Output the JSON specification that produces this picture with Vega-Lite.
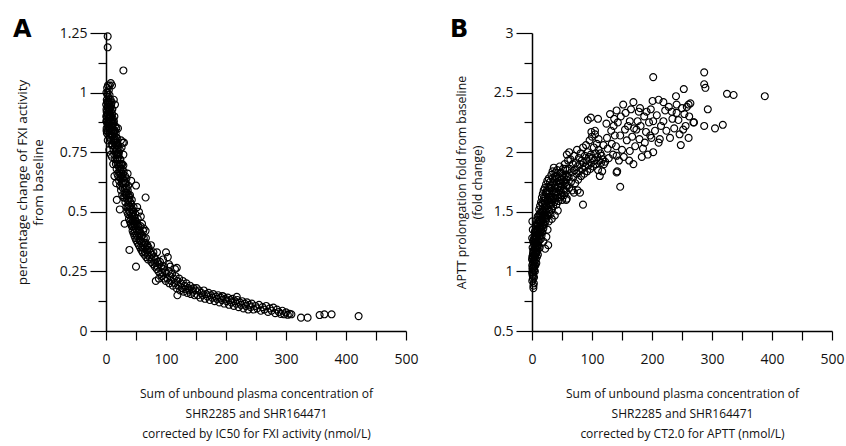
{
  "$schema": "https://vega.github.io/schema/vega-lite/v6.json",
  "background": "white",
  "padding": {"left": 13, "top": 18, "right": 0, "bottom": 6},
  "spacing": 126,
  "bounds": "flush",
  "config": {
    "view": {"stroke": null},
    "font": "Open Sans",
    "axis": {"grid": false, "domainColor": "#000", "domainWidth": 1.5, "tickColor": "#000", "tickWidth": 1.2, "labelColor": "#111", "labelFontSize": 14, "labelFont": "Open Sans", "titleFont": "Open Sans", "titleFontSize": 12, "titleFontWeight": "normal", "titleColor": "#111", "labelFlush": false, "labelOverlap": false},
    "axisX": {"tickSize": 9, "labelPadding": 12, "titleBaseline": "middle", "titleY": 62, "titleX": 150, "titleLineHeight": 20, "titleAlign": "center"},
    "axisY": {"labelPadding": 3, "titleAngle": -90, "titleBaseline": "middle", "titleY": 149, "titleLineHeight": 16, "titleAlign": "center"}
  },
  "datasets": {
    "fxi": [
      {"conc":0.3,"value":0.95},{"conc":0.5,"value":0.88},{"conc":0.7,"value":1.0},{"conc":1.0,"value":0.85},{"conc":1.1,"value":0.92},{"conc":1.3,"value":0.97},{"conc":1.5,"value":0.83},{"conc":1.7,"value":0.90},{"conc":1.9,"value":1.02},{"conc":2.0,"value":0.87},{"conc":2.2,"value":0.94},{"conc":2.4,"value":0.99},{"conc":2.6,"value":0.84},{"conc":2.8,"value":0.91},{"conc":3.0,"value":0.96},{"conc":3.1,"value":0.86},{"conc":3.3,"value":1.03},{"conc":3.5,"value":0.89},{"conc":3.7,"value":0.93},{"conc":3.9,"value":0.82},{"conc":4.1,"value":0.98},{"conc":4.3,"value":0.87},{"conc":4.5,"value":0.92},{"conc":4.7,"value":1.01},{"conc":4.9,"value":0.85},{"conc":5.1,"value":0.95},{"conc":5.3,"value":0.89},{"conc":5.5,"value":0.93},{"conc":5.7,"value":0.84},{"conc":5.9,"value":0.99},{"conc":6.1,"value":0.88},{"conc":6.3,"value":0.91},{"conc":6.5,"value":0.96},{"conc":6.7,"value":0.83},{"conc":6.9,"value":0.87},{"conc":7.1,"value":0.94},{"conc":7.3,"value":0.81},{"conc":7.5,"value":0.90},{"conc":7.7,"value":0.97},{"conc":7.9,"value":0.86},{"conc":8.1,"value":0.92},{"conc":8.3,"value":0.80},{"conc":8.5,"value":0.88},{"conc":8.7,"value":0.95},{"conc":8.9,"value":0.84},{"conc":9.1,"value":0.90},{"conc":9.3,"value":0.78},{"conc":9.5,"value":0.87},{"conc":9.7,"value":0.93},{"conc":9.9,"value":0.82},{"conc":1.4,"value":0.88},{"conc":2.9,"value":0.80},{"conc":0.8,"value":0.93},{"conc":8,"value":1.04},{"conc":10,"value":1.03},{"conc":6,"value":1.03},{"conc":5.5,"value":0.76},{"conc":8,"value":0.74},{"conc":10,"value":0.73},{"conc":12,"value":0.70},{"conc":14,"value":0.65},{"conc":17,"value":0.62},
      {"conc":10.2,"value":0.91},{"conc":10.5,"value":0.82},{"conc":10.8,"value":0.86},{"conc":11.1,"value":0.78},{"conc":11.4,"value":0.89},{"conc":11.7,"value":0.84},{"conc":12.0,"value":0.80},{"conc":12.3,"value":0.87},{"conc":12.6,"value":0.76},{"conc":12.9,"value":0.83},{"conc":13.2,"value":0.88},{"conc":13.5,"value":0.79},{"conc":13.8,"value":0.74},{"conc":14.1,"value":0.84},{"conc":14.4,"value":0.81},{"conc":14.7,"value":0.77},{"conc":15.0,"value":0.86},{"conc":15.3,"value":0.72},{"conc":15.6,"value":0.80},{"conc":15.9,"value":0.75},{"conc":16.2,"value":0.83},{"conc":16.5,"value":0.70},{"conc":16.8,"value":0.78},{"conc":17.1,"value":0.74},{"conc":17.4,"value":0.81},{"conc":17.7,"value":0.68},{"conc":18.0,"value":0.76},{"conc":18.3,"value":0.72},{"conc":18.6,"value":0.79},{"conc":18.9,"value":0.66},{"conc":19.2,"value":0.74},{"conc":19.5,"value":0.70},{"conc":19.8,"value":0.77},{"conc":20.2,"value":0.65},{"conc":20.6,"value":0.73},{"conc":21.0,"value":0.69},{"conc":21.4,"value":0.75},{"conc":21.8,"value":0.63},{"conc":22.2,"value":0.70},{"conc":22.6,"value":0.66},{"conc":23.0,"value":0.72},{"conc":23.4,"value":0.61},{"conc":23.8,"value":0.68},{"conc":24.2,"value":0.64},{"conc":24.6,"value":0.70},{"conc":25.0,"value":0.59},{"conc":25.5,"value":0.66},{"conc":26.0,"value":0.62},{"conc":26.5,"value":0.68},{"conc":27.0,"value":0.57},{"conc":27.5,"value":0.64},{"conc":28.0,"value":0.60},{"conc":28.5,"value":0.66},{"conc":29.0,"value":0.56},{"conc":29.5,"value":0.62},{"conc":15,"value":0.95},{"conc":13,"value":0.97},{"conc":25,"value":0.80},{"conc":28,"value":0.79},{"conc":26,"value":0.77},{"conc":20,"value":0.85},{"conc":29,"value":0.74},{"conc":29,"value":0.695},{"conc":30,"value":0.79},
      {"conc":30.3,"value":0.63},{"conc":30.8,"value":0.56},{"conc":31.3,"value":0.60},{"conc":31.8,"value":0.65},{"conc":32.3,"value":0.54},{"conc":32.8,"value":0.58},{"conc":33.3,"value":0.62},{"conc":33.8,"value":0.52},{"conc":34.3,"value":0.57},{"conc":34.8,"value":0.60},{"conc":35.3,"value":0.50},{"conc":35.8,"value":0.55},{"conc":36.3,"value":0.59},{"conc":36.8,"value":0.49},{"conc":37.3,"value":0.53},{"conc":37.8,"value":0.57},{"conc":38.3,"value":0.47},{"conc":38.8,"value":0.52},{"conc":39.3,"value":0.56},{"conc":39.8,"value":0.46},{"conc":40.3,"value":0.50},{"conc":40.8,"value":0.54},{"conc":41.3,"value":0.45},{"conc":41.8,"value":0.49},{"conc":42.3,"value":0.53},{"conc":42.8,"value":0.44},{"conc":43.3,"value":0.48},{"conc":43.8,"value":0.51},{"conc":44.3,"value":0.42},{"conc":44.8,"value":0.46},{"conc":45.3,"value":0.50},{"conc":45.8,"value":0.41},{"conc":46.3,"value":0.45},{"conc":46.8,"value":0.48},{"conc":47.3,"value":0.40},{"conc":47.8,"value":0.44},{"conc":48.3,"value":0.47},{"conc":48.8,"value":0.39},{"conc":49.3,"value":0.43},{"conc":49.8,"value":0.46},{"conc":50.5,"value":0.38},{"conc":51.2,"value":0.42},{"conc":51.9,"value":0.45},{"conc":52.6,"value":0.37},{"conc":53.3,"value":0.41},{"conc":54.0,"value":0.44},{"conc":54.7,"value":0.36},{"conc":55.4,"value":0.40},{"conc":56.1,"value":0.42},{"conc":56.8,"value":0.35},{"conc":57.5,"value":0.38},{"conc":58.2,"value":0.41},{"conc":58.9,"value":0.34},{"conc":59.6,"value":0.37},{"conc":60.3,"value":0.40},{"conc":61.0,"value":0.33},{"conc":62,"value":0.36},{"conc":63,"value":0.39},{"conc":64,"value":0.32},{"conc":65,"value":0.35},{"conc":66,"value":0.37},{"conc":67,"value":0.31},{"conc":68,"value":0.34},{"conc":69,"value":0.36},{"conc":70,"value":0.30},
      {"conc":50,"value":0.61},{"conc":66,"value":0.56},{"conc":36,"value":0.66},{"conc":42,"value":0.63},{"conc":18,"value":0.55},{"conc":23,"value":0.51},{"conc":31,"value":0.45},{"conc":39,"value":0.34},{"conc":50,"value":0.27},{"conc":60,"value":0.45},{"conc":63,"value":0.43},{"conc":66,"value":0.42},{"conc":58,"value":0.48},{"conc":55,"value":0.5},{"conc":52,"value":0.52},
      {"conc":0.4,"value":0.90},{"conc":0.9,"value":0.84},{"conc":1.6,"value":0.96},{"conc":2.1,"value":0.91},{"conc":2.7,"value":1.0},{"conc":3.4,"value":0.94},{"conc":4.0,"value":0.88},{"conc":4.4,"value":0.96},{"conc":5.0,"value":0.90},{"conc":6.0,"value":0.93},{"conc":6.8,"value":0.90},{"conc":7.6,"value":0.85},{"conc":9.0,"value":0.96},{"conc":10.6,"value":0.93},{"conc":11.2,"value":0.88},{"conc":12.1,"value":0.84},{"conc":13.0,"value":0.80},{"conc":14.0,"value":0.90},{"conc":15.2,"value":0.84},{"conc":16.0,"value":0.79},{"conc":17.2,"value":0.85},{"conc":18.2,"value":0.81},{"conc":19.0,"value":0.72},{"conc":20.0,"value":0.78},{"conc":21.0,"value":0.74},{"conc":22.0,"value":0.67},{"conc":23.0,"value":0.76},{"conc":24.0,"value":0.72},{"conc":25.0,"value":0.70},{"conc":26.0,"value":0.65},{"conc":27.0,"value":0.70},{"conc":28.0,"value":0.64},{"conc":29.5,"value":0.67},{"conc":31.0,"value":0.58},{"conc":32.0,"value":0.62},{"conc":33.0,"value":0.57},{"conc":34.0,"value":0.64},{"conc":35.0,"value":0.58},{"conc":36.0,"value":0.52},{"conc":37.0,"value":0.61},{"conc":38.0,"value":0.55},{"conc":39.0,"value":0.50},{"conc":40.0,"value":0.57},{"conc":41.0,"value":0.52},{"conc":42.0,"value":0.47},{"conc":43.0,"value":0.55},{"conc":44.0,"value":0.49},{"conc":45.0,"value":0.44},{"conc":46.0,"value":0.52},{"conc":47.0,"value":0.46},{"conc":48.0,"value":0.42},{"conc":49.0,"value":0.49},{"conc":50.0,"value":0.45},{"conc":51.5,"value":0.40},{"conc":53.0,"value":0.47},{"conc":54.5,"value":0.42},{"conc":56.0,"value":0.38},{"conc":57.5,"value":0.44},{"conc":59.0,"value":0.40},{"conc":60.5,"value":0.35},{"conc":62.0,"value":0.42},{"conc":63.5,"value":0.37},{"conc":65.0,"value":0.33},{"conc":66.5,"value":0.39},{"conc":68.0,"value":0.355},{"conc":69.5,"value":0.32},{"conc":72,"value":0.34},{"conc":76,"value":0.30},{"conc":79,"value":0.33},{"conc":82,"value":0.285},{"conc":86,"value":0.27},{"conc":90,"value":0.29},{"conc":94,"value":0.245},{"conc":97,"value":0.27},
      {"conc":71,"value":0.35},{"conc":72.5,"value":0.31},{"conc":74,"value":0.33},{"conc":75.5,"value":0.29},{"conc":77,"value":0.32},{"conc":78.5,"value":0.28},{"conc":80,"value":0.31},{"conc":81.5,"value":0.27},{"conc":83,"value":0.30},{"conc":84.5,"value":0.26},{"conc":86,"value":0.29},{"conc":87.5,"value":0.25},{"conc":89,"value":0.28},{"conc":90.5,"value":0.24},{"conc":92,"value":0.27},{"conc":93.5,"value":0.23},{"conc":95,"value":0.26},{"conc":96.5,"value":0.22},{"conc":98,"value":0.25},{"conc":99.5,"value":0.21},{"conc":101,"value":0.24},{"conc":102.5,"value":0.22},{"conc":104,"value":0.25},{"conc":105.5,"value":0.20},{"conc":107,"value":0.23},{"conc":108.5,"value":0.21},{"conc":110,"value":0.24},{"conc":111.5,"value":0.19},{"conc":113,"value":0.22},{"conc":114.5,"value":0.20},{"conc":116,"value":0.23},{"conc":117.5,"value":0.18},{"conc":119,"value":0.21},{"conc":120.5,"value":0.19},{"conc":122,"value":0.22},{"conc":123.5,"value":0.17},{"conc":125,"value":0.20},{"conc":126.5,"value":0.18},{"conc":128,"value":0.21},{"conc":129.5,"value":0.165},{"conc":131,"value":0.19},{"conc":132.5,"value":0.175},{"conc":134,"value":0.20},{"conc":135.5,"value":0.16},{"conc":137,"value":0.18},{"conc":138.5,"value":0.17},{"conc":140,"value":0.19},{"conc":141.5,"value":0.155},{"conc":143,"value":0.175},{"conc":144.5,"value":0.165},{"conc":146,"value":0.18},{"conc":147.5,"value":0.15},{"conc":149,"value":0.17},{"conc":75,"value":0.36},{"conc":85,"value":0.33},{"conc":95,"value":0.30},{"conc":105,"value":0.28},{"conc":115,"value":0.26},{"conc":88,"value":0.22},{"conc":100,"value":0.33},{"conc":103,"value":0.31},{"conc":83,"value":0.21},{"conc":119,"value":0.15},{"conc":107,"value":0.27},{"conc":118,"value":0.265},
      {"conc":151,"value":0.18},{"conc":153,"value":0.15},{"conc":155,"value":0.17},{"conc":157,"value":0.14},{"conc":159,"value":0.16},{"conc":161,"value":0.15},{"conc":163,"value":0.17},{"conc":165,"value":0.135},{"conc":167,"value":0.155},{"conc":169,"value":0.145},{"conc":171,"value":0.16},{"conc":173,"value":0.13},{"conc":175,"value":0.15},{"conc":177,"value":0.14},{"conc":179,"value":0.155},{"conc":181,"value":0.125},{"conc":183,"value":0.145},{"conc":185,"value":0.135},{"conc":187,"value":0.15},{"conc":189,"value":0.12},{"conc":191,"value":0.14},{"conc":193,"value":0.13},{"conc":195,"value":0.145},{"conc":197,"value":0.115},{"conc":199,"value":0.135},{"conc":201,"value":0.125},{"conc":203,"value":0.14},{"conc":205,"value":0.11},{"conc":207,"value":0.13},{"conc":209,"value":0.12},{"conc":211,"value":0.135},{"conc":213,"value":0.105},{"conc":215,"value":0.125},{"conc":217,"value":0.115},{"conc":219,"value":0.13},{"conc":221,"value":0.10},{"conc":223,"value":0.12},{"conc":225,"value":0.11},{"conc":227,"value":0.125},{"conc":229,"value":0.095},{"conc":231,"value":0.115},{"conc":233,"value":0.105},{"conc":235,"value":0.12},{"conc":237,"value":0.09},{"conc":239,"value":0.11},{"conc":241,"value":0.10},{"conc":243,"value":0.115},{"conc":246,"value":0.09},{"conc":249,"value":0.105},{"conc":252,"value":0.095},{"conc":255,"value":0.11},{"conc":258,"value":0.085},{"conc":261,"value":0.10},{"conc":264,"value":0.09},{"conc":267,"value":0.105},{"conc":270,"value":0.08},{"conc":273,"value":0.095},{"conc":276,"value":0.085},{"conc":279,"value":0.098},{"conc":282,"value":0.075},{"conc":285,"value":0.09},{"conc":288,"value":0.08},{"conc":291,"value":0.072},{"conc":294,"value":0.085},{"conc":297,"value":0.07},{"conc":300,"value":0.078},{"conc":303,"value":0.068},{"conc":306,"value":0.072},{"conc":309,"value":0.07},{"conc":194,"value":0.147},{"conc":218,"value":0.143},
      {"conc":2.8,"value":1.236},{"conc":2.8,"value":1.19},{"conc":29,"value":1.093},{"conc":325,"value":0.056},{"conc":336,"value":0.056},{"conc":356,"value":0.067},{"conc":364,"value":0.07},{"conc":376,"value":0.07},{"conc":421,"value":0.0625}
    ],
    "aptt": [
      {"conc":0.2,"value":0.99},{"conc":0.4,"value":1.05},{"conc":0.5,"value":0.92},{"conc":0.7,"value":1.12},{"conc":0.9,"value":0.97},{"conc":1.0,"value":1.20},{"conc":1.2,"value":1.03},{"conc":1.4,"value":0.94},{"conc":1.5,"value":1.08},{"conc":1.7,"value":1.15},{"conc":1.9,"value":0.99},{"conc":2.0,"value":1.25},{"conc":2.2,"value":1.06},{"conc":2.4,"value":0.88},{"conc":2.6,"value":1.12},{"conc":2.8,"value":1.01},{"conc":3.0,"value":1.18},{"conc":3.2,"value":1.09},{"conc":3.4,"value":0.95},{"conc":3.6,"value":1.22},{"conc":3.8,"value":1.04},{"conc":4.0,"value":1.14},{"conc":4.2,"value":1.30},{"conc":4.4,"value":1.08},{"conc":4.6,"value":1.19},{"conc":4.8,"value":1.00},{"conc":5.0,"value":1.26},{"conc":5.2,"value":1.12},{"conc":5.4,"value":1.34},{"conc":5.6,"value":1.05},{"conc":5.8,"value":1.21},{"conc":6.0,"value":1.15},{"conc":6.2,"value":1.38},{"conc":6.4,"value":1.10},{"conc":6.6,"value":1.27},{"conc":6.8,"value":1.18},{"conc":7.0,"value":1.32},{"conc":7.2,"value":1.07},{"conc":7.4,"value":1.24},{"conc":7.6,"value":1.40},{"conc":7.8,"value":1.16},{"conc":8.0,"value":1.29},{"conc":8.2,"value":1.12},{"conc":8.4,"value":1.35},{"conc":8.6,"value":1.22},{"conc":8.8,"value":1.43},{"conc":9.0,"value":1.18},{"conc":9.2,"value":1.31},{"conc":9.4,"value":1.26},{"conc":9.6,"value":1.38},{"conc":9.8,"value":1.14},{"conc":0.6,"value":1.42},{"conc":1.3,"value":1.35},{"conc":2.3,"value":0.86},{"conc":3.1,"value":0.90},{"conc":0.3,"value":1.28},
      {"conc":0.1,"value":1.10},{"conc":0.8,"value":1.02},{"conc":1.1,"value":1.13},{"conc":1.6,"value":0.96},{"conc":2.1,"value":1.17},{"conc":2.5,"value":1.04},{"conc":2.9,"value":1.27},{"conc":3.3,"value":1.14},{"conc":3.7,"value":1.01},{"conc":4.1,"value":1.24},{"conc":4.5,"value":1.33},{"conc":4.9,"value":1.13},{"conc":5.3,"value":1.20},{"conc":5.9,"value":1.30},{"conc":6.5,"value":1.22},{"conc":7.1,"value":1.15},{"conc":7.7,"value":1.28},{"conc":8.3,"value":1.20},{"conc":8.9,"value":1.33},{"conc":9.5,"value":1.46},{"conc":10.3,"value":1.35},{"conc":11.0,"value":1.25},{"conc":11.8,"value":1.42},{"conc":12.5,"value":1.33},{"conc":13.3,"value":1.48},{"conc":14.0,"value":1.38},{"conc":14.8,"value":1.50},{"conc":15.5,"value":1.42},{"conc":16.3,"value":1.33},{"conc":17.0,"value":1.57},{"conc":17.8,"value":1.43},{"conc":18.5,"value":1.50},{"conc":19.3,"value":1.40},{"conc":20.0,"value":1.62},{"conc":20.8,"value":1.49},{"conc":21.6,"value":1.57},{"conc":22.4,"value":1.44},{"conc":23.2,"value":1.66},{"conc":24.0,"value":1.55},{"conc":24.8,"value":1.68},{"conc":25.6,"value":1.47},{"conc":26.4,"value":1.60},{"conc":27.2,"value":1.71},{"conc":28.0,"value":1.52},{"conc":29.0,"value":1.63},{"conc":30.0,"value":1.75},{"conc":31.5,"value":1.58},{"conc":33.0,"value":1.70},{"conc":34.5,"value":1.78},{"conc":36.0,"value":1.62},{"conc":37.5,"value":1.72},{"conc":39.0,"value":1.83},{"conc":40.5,"value":1.66},{"conc":42.0,"value":1.78},{"conc":43.5,"value":1.62},{"conc":45.0,"value":1.74},{"conc":46.5,"value":1.82},{"conc":48.0,"value":1.71},{"conc":49.5,"value":1.64},{"conc":51.0,"value":1.80},{"conc":52.5,"value":1.75},{"conc":54.0,"value":1.68},{"conc":55.5,"value":1.86},{"conc":57.0,"value":1.72},{"conc":59.0,"value":1.80},
      {"conc":10.2,"value":1.22},{"conc":10.5,"value":1.40},{"conc":10.8,"value":1.31},{"conc":11.1,"value":1.47},{"conc":11.4,"value":1.26},{"conc":11.7,"value":1.36},{"conc":12.0,"value":1.52},{"conc":12.3,"value":1.30},{"conc":12.6,"value":1.43},{"conc":12.9,"value":1.20},{"conc":13.2,"value":1.38},{"conc":13.5,"value":1.55},{"conc":13.8,"value":1.33},{"conc":14.1,"value":1.46},{"conc":14.4,"value":1.27},{"conc":14.7,"value":1.41},{"conc":15.0,"value":1.58},{"conc":15.3,"value":1.35},{"conc":15.6,"value":1.49},{"conc":15.9,"value":1.30},{"conc":16.2,"value":1.44},{"conc":16.5,"value":1.62},{"conc":16.8,"value":1.38},{"conc":17.1,"value":1.52},{"conc":17.4,"value":1.33},{"conc":17.7,"value":1.47},{"conc":18.0,"value":1.65},{"conc":18.3,"value":1.41},{"conc":18.6,"value":1.56},{"conc":18.9,"value":1.36},{"conc":19.2,"value":1.50},{"conc":19.5,"value":1.68},{"conc":19.8,"value":1.44},{"conc":20.2,"value":1.59},{"conc":20.6,"value":1.39},{"conc":21.0,"value":1.53},{"conc":21.4,"value":1.70},{"conc":21.8,"value":1.47},{"conc":22.2,"value":1.62},{"conc":22.6,"value":1.42},{"conc":23.0,"value":1.56},{"conc":23.4,"value":1.73},{"conc":23.8,"value":1.50},{"conc":24.2,"value":1.65},{"conc":24.6,"value":1.45},{"conc":25.0,"value":1.59},{"conc":25.5,"value":1.76},{"conc":26.0,"value":1.53},{"conc":26.5,"value":1.67},{"conc":27.0,"value":1.22},{"conc":27.5,"value":1.62},{"conc":28.0,"value":1.78},{"conc":28.5,"value":1.56},{"conc":29.0,"value":1.70},{"conc":29.5,"value":1.50},{"conc":24,"value":1.29},{"conc":22,"value":1.19},{"conc":19,"value":1.25},{"conc":26,"value":1.35},{"conc":28,"value":1.42},
      {"conc":30.3,"value":1.62},{"conc":30.8,"value":1.48},{"conc":31.3,"value":1.72},{"conc":31.8,"value":1.56},{"conc":32.3,"value":1.81},{"conc":32.8,"value":1.60},{"conc":33.3,"value":1.52},{"conc":33.8,"value":1.68},{"conc":34.3,"value":1.84},{"conc":34.8,"value":1.63},{"conc":35.3,"value":1.55},{"conc":35.8,"value":1.74},{"conc":36.3,"value":1.87},{"conc":36.8,"value":1.66},{"conc":37.3,"value":1.58},{"conc":37.8,"value":1.77},{"conc":38.3,"value":1.70},{"conc":38.8,"value":1.61},{"conc":39.3,"value":1.80},{"conc":39.8,"value":1.67},{"conc":40.5,"value":1.56},{"conc":41.2,"value":1.75},{"conc":41.9,"value":1.85},{"conc":42.6,"value":1.64},{"conc":43.3,"value":1.71},{"conc":44.0,"value":1.59},{"conc":44.7,"value":1.79},{"conc":45.4,"value":1.68},{"conc":46.1,"value":1.88},{"conc":46.8,"value":1.62},{"conc":47.5,"value":1.74},{"conc":48.2,"value":1.83},{"conc":48.9,"value":1.66},{"conc":49.6,"value":1.77},{"conc":50.3,"value":1.60},{"conc":51,"value":1.72},{"conc":51.7,"value":1.86},{"conc":52.4,"value":1.69},{"conc":53.1,"value":1.79},{"conc":53.8,"value":1.64},{"conc":54.5,"value":1.90},{"conc":55.2,"value":1.74},{"conc":55.9,"value":1.81},{"conc":56.6,"value":1.67},{"conc":57.3,"value":1.77},{"conc":58,"value":1.61},{"conc":58.7,"value":1.85},{"conc":59.4,"value":1.72},{"conc":60,"value":1.93},{"conc":33,"value":1.44},{"conc":38,"value":1.47},{"conc":43,"value":1.51},
      {"conc":61,"value":1.79},{"conc":62,"value":1.70},{"conc":63,"value":1.86},{"conc":64,"value":1.94},{"conc":65,"value":1.75},{"conc":66,"value":1.83},{"conc":67,"value":1.68},{"conc":68,"value":1.90},{"conc":69,"value":1.79},{"conc":70,"value":1.97},{"conc":71,"value":1.85},{"conc":72,"value":1.74},{"conc":73,"value":1.91},{"conc":74,"value":1.82},{"conc":75,"value":2.02},{"conc":76,"value":1.88},{"conc":77,"value":1.77},{"conc":78,"value":1.95},{"conc":79,"value":1.84},{"conc":80,"value":1.90},{"conc":81,"value":1.99},{"conc":82,"value":1.80},{"conc":83,"value":1.93},{"conc":84,"value":1.86},{"conc":85,"value":2.04},{"conc":86,"value":1.91},{"conc":87,"value":1.82},{"conc":88,"value":1.97},{"conc":89,"value":1.88},{"conc":90,"value":2.06},{"conc":91,"value":1.93},{"conc":92,"value":1.84},{"conc":93,"value":2.00},{"conc":94,"value":1.89},{"conc":95,"value":1.96},{"conc":96,"value":2.10},{"conc":97,"value":1.86},{"conc":98,"value":1.98},{"conc":99,"value":1.91},{"conc":100,"value":2.13},{"conc":101,"value":1.95},{"conc":102,"value":1.88},{"conc":103,"value":2.04},{"conc":104,"value":1.93},{"conc":105,"value":2.18},{"conc":106,"value":1.99},{"conc":107,"value":1.90},{"conc":108,"value":2.07},{"conc":109,"value":1.96},{"conc":110,"value":1.85},{"conc":111,"value":2.02},{"conc":112,"value":1.93},{"conc":113,"value":1.80},{"conc":114,"value":1.99},{"conc":115,"value":1.91},{"conc":116,"value":1.97},{"conc":117,"value":1.84},{"conc":118,"value":1.94},{"conc":119,"value":2.06},{"conc":120,"value":1.90},{"conc":57,"value":1.60},{"conc":70,"value":1.66},{"conc":76,"value":1.68},{"conc":80,"value":1.66},{"conc":85,"value":1.56},{"conc":93,"value":2.27},{"conc":98,"value":2.29},{"conc":110,"value":2.28},{"conc":62,"value":2.0},{"conc":58,"value":1.98},
      {"conc":124,"value":2.24},{"conc":126,"value":2.03},{"conc":130,"value":2.32},{"conc":133,"value":2.07},{"conc":136,"value":2.22},{"conc":138,"value":2.14},{"conc":141,"value":2.35},{"conc":141,"value":1.97},{"conc":141,"value":1.83},{"conc":147,"value":2.14},{"conc":147,"value":1.71},{"conc":142,"value":1.84},{"conc":152,"value":2.40},{"conc":153,"value":1.96},{"conc":155,"value":2.19},{"conc":163,"value":2.26},{"conc":163,"value":2.01},{"conc":169,"value":2.42},{"conc":169,"value":1.90},{"conc":174,"value":2.19},{"conc":178,"value":2.34},{"conc":180,"value":2.37},{"conc":183,"value":1.96},{"conc":188,"value":2.08},{"conc":191,"value":2.34},{"conc":197,"value":2.14},{"conc":199,"value":2.12},{"conc":201,"value":2.43},{"conc":202,"value":2.26},{"conc":202,"value":2.0},{"conc":202,"value":2.63},{"conc":211,"value":2.44},{"conc":211,"value":2.08},{"conc":213,"value":2.11},{"conc":219,"value":2.42},{"conc":219,"value":2.26},{"conc":224,"value":2.18},{"conc":233,"value":2.34},{"conc":234,"value":2.28},{"conc":240,"value":2.47},{"conc":241,"value":2.40},{"conc":241,"value":2.33},{"conc":248,"value":2.06},{"conc":252,"value":2.19},{"conc":253,"value":2.53},{"conc":254,"value":2.32},{"conc":258,"value":2.38},{"conc":261,"value":2.40},{"conc":261,"value":2.12},{"conc":269,"value":2.25},{"conc":287,"value":2.67},{"conc":287,"value":2.57},{"conc":289,"value":2.54},{"conc":293,"value":2.36},{"conc":287,"value":2.22},{"conc":305,"value":2.20},{"conc":318,"value":2.23},{"conc":325,"value":2.49},{"conc":336,"value":2.48},{"conc":388,"value":2.47},{"conc":111,"value":2.11},{"conc":99,"value":2.17},{"conc":105,"value":2.15},
      {"conc":122,"value":1.92},{"conc":125,"value":2.12},{"conc":128,"value":1.95},{"conc":132,"value":2.18},{"conc":135,"value":1.98},{"conc":137,"value":2.28},{"conc":140,"value":2.05},{"conc":143,"value":2.25},{"conc":145,"value":1.93},{"conc":148,"value":2.30},{"conc":150,"value":2.02},{"conc":156,"value":2.33},{"conc":158,"value":2.10},{"conc":160,"value":2.22},{"conc":162,"value":1.93},{"conc":165,"value":2.36},{"conc":167,"value":2.13},{"conc":170,"value":2.20},{"conc":172,"value":2.05},{"conc":176,"value":2.26},{"conc":179,"value":2.11},{"conc":181,"value":2.22},{"conc":185,"value":2.03},{"conc":187,"value":2.30},{"conc":190,"value":2.17},{"conc":193,"value":1.98},{"conc":195,"value":2.25},{"conc":198,"value":2.36},{"conc":205,"value":2.18},{"conc":208,"value":2.31},{"conc":215,"value":2.22},{"conc":222,"value":2.35},{"conc":228,"value":2.38},{"conc":230,"value":2.12},{"conc":237,"value":2.20},{"conc":244,"value":2.27},{"conc":246,"value":2.15},{"conc":250,"value":2.37},{"conc":256,"value":2.22},{"conc":262,"value":2.30},{"conc":264,"value":2.41},{"conc":270,"value":2.25}
    ]
  },
  "hconcat": [
    {
      "width": 300,
      "height": 298,
      "title": {"text": "A", "anchor": "start", "frame": "group", "dx": -93, "dy": 35, "offset": 0, "font": "DejaVu Sans", "fontSize": 24, "fontWeight": "bold", "baseline": "alphabetic", "color": "#000"},
      "data": {"name": "fxi"},
      "mark": {"type": "point", "shape": "circle", "filled": false, "stroke": "#000", "strokeWidth": 1.15, "size": 48, "opacity": 1},
      "encoding": {
        "x": {"field": "conc", "type": "quantitative", "scale": {"domain": [0, 500], "nice": false, "zero": false},
          "axis": {"values": [0, 50, 100, 150, 200, 250, 300, 350, 400, 450, 500], "labelExpr": "datum.value % 100 === 0 ? format(datum.value, 'd') : ''",
            "title": ["Sum of unbound plasma concentration of", "SHR2285 and SHR164471", "corrected by IC50 for FXI activity (nmol/L)"]}},
        "y": {"field": "value", "type": "quantitative", "scale": {"domain": [0, 1.25], "nice": false, "zero": false},
          "axis": {"values": [0, 0.125, 0.25, 0.375, 0.5, 0.625, 0.75, 0.875, 1, 1.125, 1.25],
            "labelExpr": "datum.value % 0.25 === 0 ? format(datum.value, '~g') : ''",
            "tickSize": {"condition": {"test": "datum.value % 0.25 === 0", "value": 16}, "value": 8},
            "titleX": -84,
            "titleFontSize": 13.5,
            "title": ["percentage change of FXI activity", "from baseline"]}}
      }
    },
    {
      "width": 300,
      "height": 298,
      "title": {"text": "B", "anchor": "start", "frame": "group", "dx": -82, "dy": 35, "offset": 0, "font": "DejaVu Sans", "fontSize": 24, "fontWeight": "bold", "baseline": "alphabetic", "color": "#000"},
      "data": {"name": "aptt"},
      "mark": {"type": "point", "shape": "circle", "filled": false, "stroke": "#000", "strokeWidth": 1.15, "size": 48, "opacity": 1},
      "encoding": {
        "x": {"field": "conc", "type": "quantitative", "scale": {"domain": [0, 500], "nice": false, "zero": false},
          "axis": {"values": [0, 50, 100, 150, 200, 250, 300, 350, 400, 450, 500], "labelExpr": "datum.value % 100 === 0 ? format(datum.value, 'd') : ''",
            "title": ["Sum of unbound plasma concentration of", "SHR2285 and SHR164471", "corrected by CT2.0 for APTT (nmol/L)"]}},
        "y": {"field": "value", "type": "quantitative", "scale": {"domain": [0.5, 3], "nice": false, "zero": false},
          "axis": {"values": [0.5, 0.75, 1, 1.25, 1.5, 1.75, 2, 2.25, 2.5, 2.75, 3],
            "labelExpr": "datum.value % 0.5 === 0 ? format(datum.value, '~g') : ''",
            "tickSize": {"condition": {"test": "datum.value % 0.5 === 0", "value": 16}, "value": 8},
            "titleX": -71,
            "titleFontSize": 12.3,
            "title": ["APTT prolongation fold from baseline", "(fold change)"]}}
      }
    }
  ]
}
